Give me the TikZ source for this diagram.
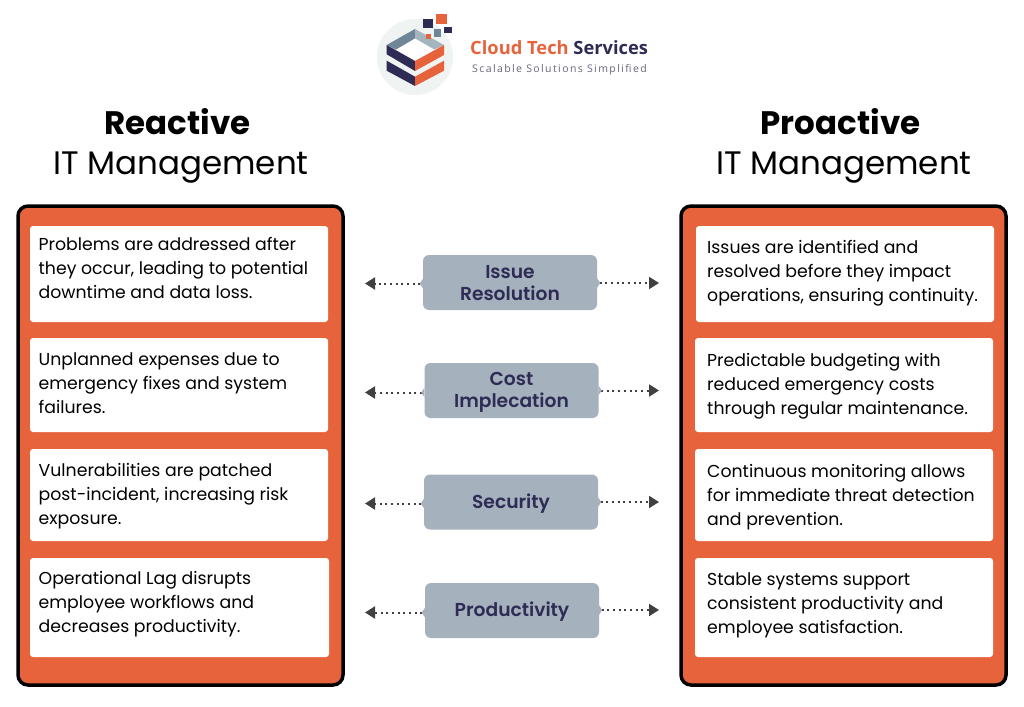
\documentclass[tikz,border=0pt]{standalone}
\usepackage{fontspec}
\setmainfont{Poppins}
\newfontfamily\topicfont{Poppins SemiBold}
\newfontfamily\brandfont{Open Sans}
\newfontfamily\taglinefont[LetterSpace=13.4]{Open Sans}
\usetikzlibrary{arrows.meta,positioning}
\definecolor{panelorange}{HTML}{E6633C}
\definecolor{topicgray}{HTML}{A5B1BC}
\definecolor{topicnavy}{HTML}{2E2C55}
\definecolor{linegray}{HTML}{404040}
\definecolor{logogray}{HTML}{EFF3F2}
\definecolor{logoblue}{HTML}{6F8598}
\definecolor{logolight}{HTML}{A5B5BF}
\definecolor{taglinegray}{HTML}{666680}

\begin{document}
\begin{tikzpicture}[
  x=1pt, y=-1pt,
  >=Stealth,
  panel/.style={draw=black, fill=panelorange, line width=3.5pt, rounded corners=10pt},
  cardbox/.style={fill=white, rounded corners=3pt},
  cardtext/.style={anchor=west, align=left, font=\fontsize{17.3}{24}\selectfont, text=black, inner sep=0pt},
  topic/.style={rectangle, fill=topicgray, rounded corners=6pt, minimum width=174pt, minimum height=55pt, inner sep=0pt},
  topiclabel/.style={align=center, inner sep=0pt, text=topicnavy, font=\fontsize{18.7}{22}\topicfont},
  link/.style={draw=linegray, line width=2pt, dash pattern=on 2pt off 3.7pt, arrows={{Triangle[reversed,color=topicgray,length=3pt,width=9pt]}-{Triangle[length=10pt,width=12pt]}}},
  headingbold/.style={anchor=base, inner sep=0pt, font=\fontsize{32.5}{39}\selectfont\bfseries},
  heading/.style={anchor=base, inner sep=0pt, font=\fontsize{32.5}{39}\selectfont}
]
  \useasboundingbox[fill=white] (0,0) rectangle (1024,706);

  % logo
  \fill[logogray] (415,57) circle (38);
  \fill[white] (396,50) -- (415,38.3) -- (440,47) -- (415,61) -- cycle;
  \fill[logoblue] (386.7,45) -- (415,29) -- (415,38.3) -- (396,49.5) -- cycle;
  \fill[logolight] (415,29) -- (444,45) -- (434.3,49.5) -- (415,38.3) -- cycle;
  \fill[topicnavy] (386.7,45) -- (415,61) -- (415,71) -- (386.7,54.3) -- cycle;
  \fill[panelorange] (415,61) -- (444,45) -- (444,55) -- (415,71) -- cycle;
  \fill[topicnavy] (386.7,60.7) -- (415,76.7) -- (415,86) -- (386.7,70.7) -- cycle;
  \fill[panelorange] (415,76.7) -- (444,60.7) -- (444,70.7) -- (415,86) -- cycle;
  \fill[panelorange] (436,14) rectangle (447,24);
  \fill[topicnavy] (423,19) rectangle (433,28);
  \fill[topicnavy] (444,27) rectangle (452,33);
  \fill[logoblue] (434,29) rectangle (441,37);
  \fill[panelorange] (426,34) rectangle (431,39);
  \node[anchor=west, inner sep=0pt, font=\fontsize{18.3}{20}\brandfont\bfseries] (brand) at (470,47.5) {\textcolor{panelorange}{Cloud Tech} \textcolor{topicnavy}{Services}};
  \node[anchor=west, inner sep=0pt, text=taglinegray, font=\fontsize{10.5}{12}\taglinefont] (tagline) at (472,70) {Scalable Solutions Simplified};

  % headings
  \node[headingbold] (reactive) at (177.5,135) {Reactive};
  \node[heading] (reactiveit) at (181,174) {IT Management};
  \node[headingbold] (proactive) at (840.5,135) {Proactive};
  \node[heading] (proactiveit) at (844,174) {IT Management};

  % panels
  \draw[panel] (18,206) rectangle (343,685);
  \draw[panel] (681,206) rectangle (1006,685);

  % left cards
  \fill[cardbox] (30,226) rectangle (328,322);
  \fill[cardbox] (30,338) rectangle (328,432);
  \fill[cardbox] (30,449) rectangle (328,541);
  \fill[cardbox] (30,558) rectangle (329,657);
  \node[cardtext] (left1) at (38.5,268) {Problems are addressed after\\they occur, leading to potential\\downtime and data loss.};
  \node[cardtext] (left2) at (38.5,383) {Unplanned expenses due to\\emergency fixes and system\\failures.};
  \node[cardtext] (left3) at (38.5,496) {Vulnerabilities are patched\\post-incident, increasing risk\\exposure.};
  \node[cardtext] (left4) at (38.5,604) {Operational Lag disrupts\\employee workflows and\\decreases productivity.};

  % right cards
  \fill[cardbox] (696,226) rectangle (994,322);
  \fill[cardbox] (695,338) rectangle (993,432);
  \fill[cardbox] (695,449) rectangle (993,541);
  \fill[cardbox] (695,558) rectangle (993,657);
  \node[cardtext] (right1) at (707,273) {Issues are identified and\\resolved before they impact\\operations, ensuring continuity.};
  \node[cardtext] (right2) at (707,386) {Predictable budgeting with\\reduced emergency costs\\through regular maintenance.};
  \node[cardtext] (right3) at (707,497) {Continuous monitoring allows\\for immediate threat detection\\and prevention.};
  \node[cardtext] (right4) at (707,605) {Stable systems support\\consistent productivity and\\employee satisfaction.};

  % topics
  \node[topic] (issue) at (510,282.5) {};
  \node[topic] (cost) at (511.5,390.5) {};
  \node[topic] (security) at (511,502) {};
  \node[topic] (productivity) at (512,610.5) {};
  \node[topiclabel] (issuetext) at ([yshift=-1pt]issue) {Issue\\Resolution};
  \node[topiclabel] (costtext) at ([yshift=-2pt]cost) {Cost\\Implecation};
  \node[topiclabel] (securitytext) at ([yshift=-2pt]security) {Security};
  \node[topiclabel] (productivitytext) at ([yshift=-1.5pt]productivity) {Productivity};

  % free ends of the arrows
  \coordinate (issueL) at (365,283.5);
  \coordinate (issueR) at (659,283);
  \coordinate (costL) at (365,392.5);
  \coordinate (costR) at (659,390.5);
  \coordinate (securityL) at (365,503.5);
  \coordinate (securityR) at (659,502);
  \coordinate (productivityL) at (365,612.5);
  \coordinate (productivityR) at (659,610);

  \draw[link] (issue.west |- issueL) -- (issueL);
  \draw[link] (issue.east |- issueR) -- (issueR);
  \draw[link] (cost.west |- costL) -- (costL);
  \draw[link] (cost.east |- costR) -- (costR);
  \draw[link] (security.west |- securityL) -- (securityL);
  \draw[link] (security.east |- securityR) -- (securityR);
  \draw[link] (productivity.west |- productivityL) -- (productivityL);
  \draw[link] (productivity.east |- productivityR) -- (productivityR);
\end{tikzpicture}
\end{document}
